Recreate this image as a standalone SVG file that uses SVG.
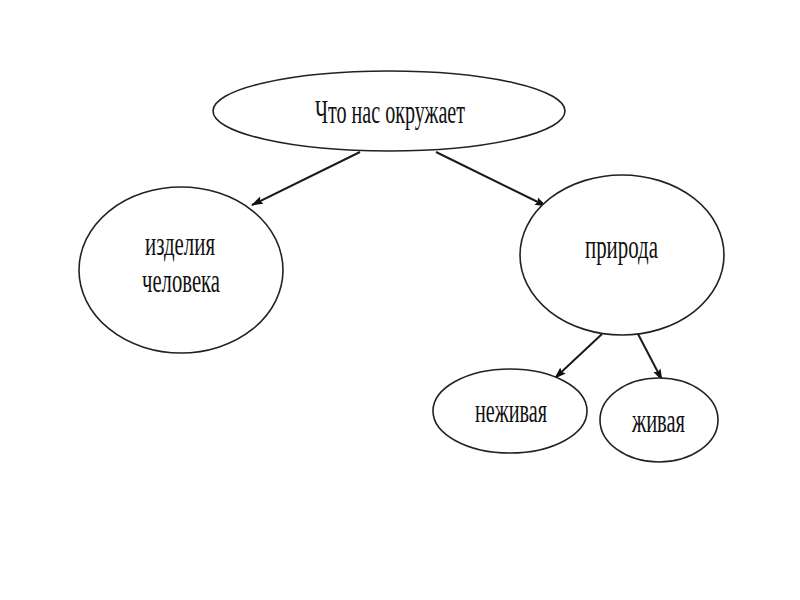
<svg xmlns="http://www.w3.org/2000/svg" width="800" height="600" viewBox="0 0 800 600">
<style>
.n{fill:#fff;stroke:#222;stroke-width:1.6}
.t{font-family:"Liberation Serif","Times New Roman",serif;font-size:34px;fill:#111;text-anchor:start}
.c{stroke:#1a1a1a;stroke-width:2;fill:none;marker-end:url(#ah)}
</style>
<defs>
<marker id="ah" viewBox="0 0 12 10" refX="11" refY="5" markerWidth="12" markerHeight="10" orient="auto" markerUnits="userSpaceOnUse">
<path d="M0,1 L12,5 L0,9 L2,5 z" fill="#111"/>
</marker>
</defs>
<rect width="800" height="600" fill="#fff"/>
<g id="connectors">
<line class="c" x1="360" y1="152" x2="252" y2="205"/>
<line class="c" x1="436" y1="152" x2="546" y2="206"/>
<line class="c" x1="602" y1="334" x2="555" y2="378"/>
<line class="c" x1="638" y1="334" x2="662" y2="380"/>
</g>
<g id="root">
<ellipse class="n" cx="389" cy="111" rx="176" ry="40"/>
<text class="t" x="315" y="123" textLength="150" lengthAdjust="spacingAndGlyphs">Что нас окружает</text>
</g>
<g id="izdeliya">
<ellipse class="n" cx="181" cy="270" rx="102" ry="83"/>
<text class="t" x="145" y="255" textLength="70" lengthAdjust="spacingAndGlyphs">изделия</text>
<text class="t" x="142" y="292" textLength="78" lengthAdjust="spacingAndGlyphs">человека</text>
</g>
<g id="priroda">
<ellipse class="n" cx="622" cy="255" rx="102" ry="80"/>
<text class="t" x="585" y="258" textLength="73" lengthAdjust="spacingAndGlyphs">природа</text>
</g>
<g id="nezhivaya">
<ellipse class="n" cx="510" cy="411" rx="77" ry="42"/>
<text class="t" x="475" y="422" textLength="72" lengthAdjust="spacingAndGlyphs">неживая</text>
</g>
<g id="zhivaya">
<ellipse class="n" cx="659" cy="420" rx="59" ry="42"/>
<text class="t" x="632" y="432" textLength="53" lengthAdjust="spacingAndGlyphs">живая</text>
</g>
</svg>
